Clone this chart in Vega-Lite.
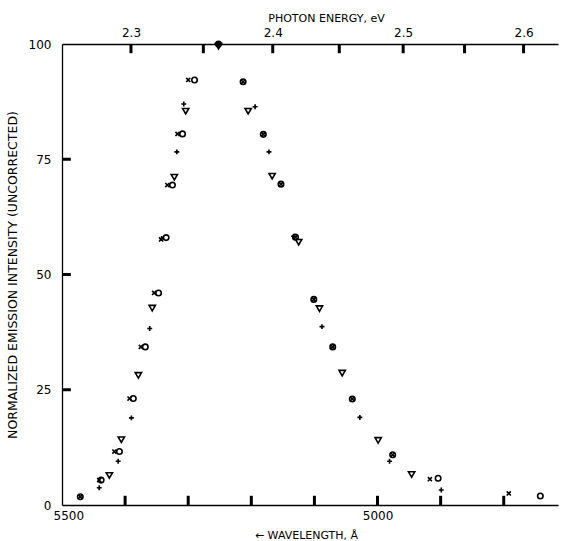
{
  "$schema": "https://vega.github.io/schema/vega-lite/v6.json",
  "width": 496,
  "height": 461,
  "autosize": "none",
  "padding": {"left": 62, "top": 44, "right": 8, "bottom": 36},
  "background": "white",
  "config": {
    "view": {"stroke": null},
    "axis": {
      "domainColor": "black", "labelColor": "black", "titleColor": "black",
      "labelFont": "DejaVu Sans", "titleFont": "DejaVu Sans", "labelFontSize": 12, "titleFontSize": 11,
      "titleFontWeight": "normal", "grid": false, "ticks": false, "domainWidth": 1.3
    }
  },
  "layer": [
    {
      "layer": [
        {
          "data": {"values": [
            {"w": 5471, "I": 1.8, "s": "o"}, {"w": 5471, "I": 1.8, "s": "x"},
            {"w": 5441, "I": 3.75, "s": "+"},
            {"w": 5438, "I": 5.4, "s": "o"}, {"w": 5441, "I": 5.4, "s": "x"},
            {"w": 5425, "I": 6.5, "s": "v"},
            {"w": 5417, "I": 11.6, "s": "x"}, {"w": 5409, "I": 11.6, "s": "o"},
            {"w": 5411, "I": 9.5, "s": "+"},
            {"w": 5406, "I": 14.25, "s": "v"},
            {"w": 5393, "I": 23.1, "s": "x"}, {"w": 5387, "I": 23.1, "s": "o"},
            {"w": 5390, "I": 18.9, "s": "+"},
            {"w": 5379, "I": 28.2, "s": "v"},
            {"w": 5375, "I": 34.3, "s": "x"}, {"w": 5368, "I": 34.3, "s": "o"},
            {"w": 5361, "I": 38.3, "s": "+"},
            {"w": 5357, "I": 42.8, "s": "v"},
            {"w": 5354, "I": 46.0, "s": "x"}, {"w": 5347, "I": 46.0, "s": "o"},
            {"w": 5343, "I": 57.6, "s": "x"}, {"w": 5342, "I": 57.8, "s": "+"}, {"w": 5335, "I": 58.0, "s": "o"},
            {"w": 5333, "I": 69.4, "s": "x"}, {"w": 5325, "I": 69.4, "s": "o"},
            {"w": 5322, "I": 71.2, "s": "v"},
            {"w": 5318, "I": 76.6, "s": "+"},
            {"w": 5317, "I": 80.5, "s": "x"}, {"w": 5309, "I": 80.5, "s": "o"},
            {"w": 5307, "I": 87.0, "s": "+"},
            {"w": 5304, "I": 85.5, "s": "v"},
            {"w": 5300, "I": 92.2, "s": "x"}, {"w": 5290, "I": 92.2, "s": "o"},
            {"w": 5252, "I": 100, "s": "o"}, {"w": 5252, "I": 100, "s": "x"}, {"w": 5252, "I": 100, "s": "+"}, {"w": 5252, "I": 99.6, "s": "v"},
            {"w": 5213, "I": 91.8, "s": "o"}, {"w": 5213, "I": 91.8, "s": "x"},
            {"w": 5205, "I": 85.5, "s": "v"},
            {"w": 5194, "I": 86.4, "s": "+"},
            {"w": 5181, "I": 80.4, "s": "o"}, {"w": 5181, "I": 80.4, "s": "x"},
            {"w": 5172, "I": 76.6, "s": "+"},
            {"w": 5167, "I": 71.4, "s": "v"},
            {"w": 5153, "I": 69.6, "s": "o"}, {"w": 5153, "I": 69.6, "s": "x"},
            {"w": 5130, "I": 58.1, "s": "o"}, {"w": 5130, "I": 58.1, "s": "x"}, {"w": 5133, "I": 58.3, "s": "+"},
            {"w": 5125, "I": 57.1, "s": "v"},
            {"w": 5101, "I": 44.6, "s": "o"}, {"w": 5101, "I": 44.6, "s": "x"},
            {"w": 5092, "I": 42.7, "s": "v"},
            {"w": 5088, "I": 38.7, "s": "+"},
            {"w": 5071, "I": 34.3, "s": "o"}, {"w": 5071, "I": 34.3, "s": "x"},
            {"w": 5056, "I": 28.7, "s": "v"},
            {"w": 5040, "I": 23.0, "s": "o"}, {"w": 5040, "I": 23.0, "s": "x"},
            {"w": 5028, "I": 19.0, "s": "+"},
            {"w": 4999, "I": 14.1, "s": "v"},
            {"w": 4976, "I": 10.9, "s": "o"}, {"w": 4976, "I": 10.9, "s": "x"},
            {"w": 4981, "I": 9.5, "s": "+"},
            {"w": 4946, "I": 6.7, "s": "v"},
            {"w": 4917, "I": 5.6, "s": "x"}, {"w": 4904, "I": 5.8, "s": "o"},
            {"w": 4899, "I": 3.25, "s": "+"},
            {"w": 4792, "I": 2.5, "s": "x"},
            {"w": 4742, "I": 1.95, "s": "o"}
          ]},
          "mark": {"type": "point", "filled": false, "strokeWidth": 1.6, "color": "black", "opacity": 1, "size": 30},
          "encoding": {
            "x": {
              "field": "w", "type": "quantitative",
              "scale": {"domain": [5500, 4714], "nice": false, "zero": false},
              "axis": {
                "orient": "bottom",
                "values": [5500, 5400, 5300, 5200, 5100, 5000, 4900, 4800],
                "labelExpr": "(datum.value == 5500 || datum.value == 5000) ? format(datum.value, 'd') : ''",
                "labelPadding": 5,
                "labelFlush": true,
                "labelFlushOffset": 9,
                "title": "← WAVELENGTH, Å",
                "titlePadding": 8,
                "titleX": 244
              }
            },
            "y": {
              "field": "I", "type": "quantitative",
              "scale": {"domain": [0, 100], "nice": false, "zero": true},
              "axis": {
                "values": [0, 25, 50, 75, 100],
                "format": "d",
                "labelPadding": 11,
                "title": "NORMALIZED EMISSION INTENSITY (UNCORRECTED)",
                "titleFontSize": 12.5,
                "titlePadding": 9
              }
            },
            "shape": {
              "field": "s", "type": "nominal",
              "scale": {
                "domain": ["o", "x", "+", "v"],
                "range": ["circle", "M-0.75,-0.75L0.75,0.75M-0.75,0.75L0.75,-0.75", "M0,-0.9L0,0.9M-0.9,0L0.9,0", "M-1.15,-0.85L1.15,-0.85L0,1.15Z"]
              },
              "legend": null
            }
          }
        },
        {
          "data": {"values": [{"w": 5400}, {"w": 5300}, {"w": 5200}, {"w": 5100}, {"w": 5000}, {"w": 4900}, {"w": 4800}]},
          "mark": {"type": "rule", "color": "black", "strokeWidth": 3, "opacity": 1},
          "encoding": {
            "x": {"field": "w", "type": "quantitative"},
            "y": {"datum": 0, "type": "quantitative"},
            "y2": {"datum": 2}
          }
        },
        {
          "data": {"values": [{"I": 25}, {"I": 50}, {"I": 75}]},
          "mark": {"type": "rule", "color": "black", "strokeWidth": 3, "opacity": 1},
          "encoding": {
            "y": {"field": "I", "type": "quantitative"},
            "x": {"datum": 5500, "type": "quantitative"},
            "x2": {"datum": 5486}
          }
        }
      ]
    },
    {
      "data": {"values": [{"eV": 2.3}, {"eV": 2.35}, {"eV": 2.4}, {"eV": 2.45}, {"eV": 2.5}, {"eV": 2.55}, {"eV": 2.6}]},
      "mark": {"type": "rule", "color": "black", "strokeWidth": 3, "opacity": 1},
      "encoding": {
        "x": {
          "field": "eV", "type": "quantitative",
          "scale": {"type": "pow", "exponent": -1, "domain": [2.2543, 2.6301], "nice": false, "zero": false},
          "axis": {
            "orient": "top",
            "values": [2.3, 2.35, 2.4, 2.45, 2.5, 2.55, 2.6],
            "labelExpr": "(round(datum.value * 100) % 10 == 0) ? format(datum.value, '.1f') : ''",
            "labelPadding": 5,
            "title": "PHOTON ENERGY, eV",
            "titlePadding": 3,
            "titleX": 264
          }
        },
        "y": {"datum": 100, "type": "quantitative"},
        "y2": {"datum": 98}
      }
    }
  ],
  "resolve": {"scale": {"x": "independent"}, "axis": {"x": "independent"}}
}
